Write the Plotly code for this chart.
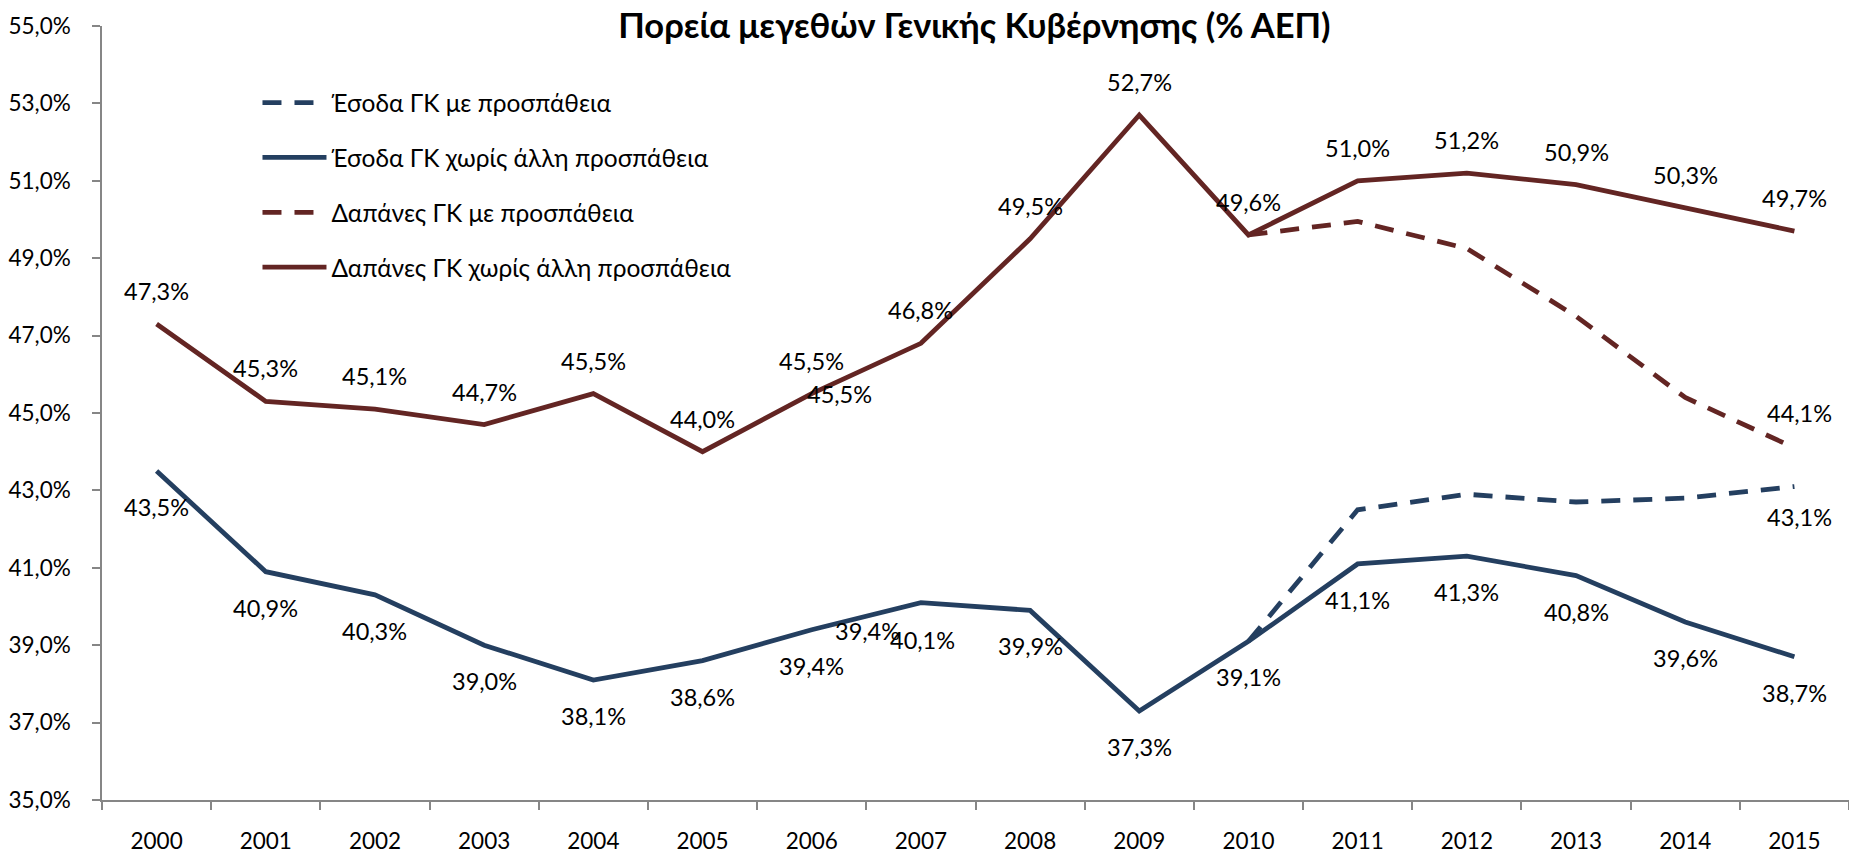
import plotly.graph_objects as go

# ---------------- data ----------------
years = ["2000", "2001", "2002", "2003", "2004", "2005", "2006", "2007",
         "2008", "2009", "2010", "2011", "2012", "2013", "2014", "2015"]
proj_years = ["2010", "2011", "2012", "2013", "2014", "2015"]

revenue_base = [43.5, 40.9, 40.3, 39.0, 38.1, 38.6, 39.4, 40.1,
                39.9, 37.3, 39.1, 41.1, 41.3, 40.8, 39.6, 38.7]
expend_base = [47.3, 45.3, 45.1, 44.7, 45.5, 44.0, 45.5, 46.8,
               49.5, 52.7, 49.6, 51.0, 51.2, 50.9, 50.3, 49.7]
revenue_effort = [39.1, 42.5, 42.9, 42.7, 42.8, 43.1]
expend_effort = [49.6, 49.95, 49.25, 47.5, 45.4, 44.1]

name_rev_eff = "Έσοδα ΓΚ με προσπάθεια"
name_rev_base = "Έσοδα ΓΚ χωρίς άλλη προσπάθεια"
name_exp_eff = "Δαπάνες ΓΚ με προσπάθεια"
name_exp_base = "Δαπάνες ΓΚ χωρίς άλλη προσπάθεια"
title_text = "Πορεία μεγεθών Γενικής Κυβέρνησης (% ΑΕΠ)"

# ---------------- styles ----------------
BLUE = "#243F60"
RED = "#632523"
AXIS = "#868686"
FONT = "Lato"
LW = 4.8
DASH = "19px,13px"


def fmt(v):
    return f"{v:.1f}".replace(".", ",") + "%"


fig = go.Figure()
fig.add_trace(go.Scatter(x=proj_years, y=revenue_effort, mode="lines", name=name_rev_eff,
                         line=dict(color=BLUE, width=LW, dash=DASH), legendgroup="a", legendrank=1))
fig.add_trace(go.Scatter(x=proj_years, y=expend_effort, mode="lines", name=name_exp_eff,
                         line=dict(color=RED, width=LW, dash=DASH), legendgroup="c", legendrank=3))
fig.add_trace(go.Scatter(x=years, y=revenue_base, mode="lines", name=name_rev_base,
                         line=dict(color=BLUE, width=LW), legendgroup="b", legendrank=2))
fig.add_trace(go.Scatter(x=years, y=expend_base, mode="lines", name=name_exp_base,
                         line=dict(color=RED, width=LW), legendgroup="d", legendrank=4))

# data-label offsets in pixels (dx, dy with dy positive = downward)
exp_off = {"default": (0, -33)}
rev_off = {"default": (0, 36), "2007": (2, 37)}

ann = []


def add_label(cat, yv, dx, dy):
    # category axis: position is the category index
    ann.append(dict(x=years.index(cat), y=yv, xref="x", yref="y", text=fmt(yv), showarrow=False,
                    xshift=dx, yshift=-dy, font=dict(family=FONT, size=23.5, color="black")))


for yr, v in zip(years, expend_base):
    dx, dy = exp_off.get(yr, exp_off["default"])
    add_label(yr, v, dx, dy)
for yr, v in zip(years, revenue_base):
    dx, dy = rev_off.get(yr, rev_off["default"])
    add_label(yr, v, dx, dy)

# extra (duplicated) labels present in the original around 2006
i06 = years.index("2006")
add_label("2006", expend_base[i06], 28, 0)
add_label("2006", revenue_base[i06], 56, 1)

# labels on the last point of the projection lines
add_label(proj_years[-1], expend_effort[-1], 5, -35)
add_label(proj_years[-1], revenue_effort[-1], 5, 30)

fig.update_layout(
    width=1849, height=853,
    paper_bgcolor="white", plot_bgcolor="white",
    separators=",.",
    margin=dict(l=102, r=0, t=26, b=53),
    font=dict(family=FONT, size=20, color="black"),
    title=dict(text=title_text, x=0.527, xanchor="center", y=1 - 26 / 853, yanchor="middle",
               yref="container", font=dict(family=FONT, size=34.5, color="black", weight="bold")),
    showlegend=True,
    legend=dict(x=0.089, y=0.93, xanchor="left", yanchor="top", traceorder="grouped",
                tracegroupgap=20, itemwidth=64, font=dict(family=FONT, size=24.5, color="black"),
                bgcolor="rgba(0,0,0,0)"),
    annotations=ann,
)
fig.update_xaxes(type="category", categoryorder="array", categoryarray=years,
                 range=[-0.5, 15.5], showline=True, linecolor=AXIS, linewidth=1.5,
                 ticks="outside", tickson="boundaries", ticklen=8, tickcolor=AXIS, tickwidth=1.5,
                 showgrid=False, zeroline=False, ticklabelstandoff=20, automargin=False,
                 tickfont=dict(family=FONT, size=22.5, color="black"))
fig.update_yaxes(range=[35, 55], tick0=35, dtick=2, tickformat=".1f", ticksuffix="%",
                 showline=True, linecolor=AXIS, linewidth=1.5, ticks="outside", ticklen=8,
                 tickcolor=AXIS, tickwidth=1.5, showgrid=False, zeroline=False, automargin=False,
                 ticklabelstandoff=17, tickfont=dict(family=FONT, size=22.5, color="black"))

fig.write_html("out.html", config={"displayModeBar": False},
               post_script="document.body.style.margin='0';")
